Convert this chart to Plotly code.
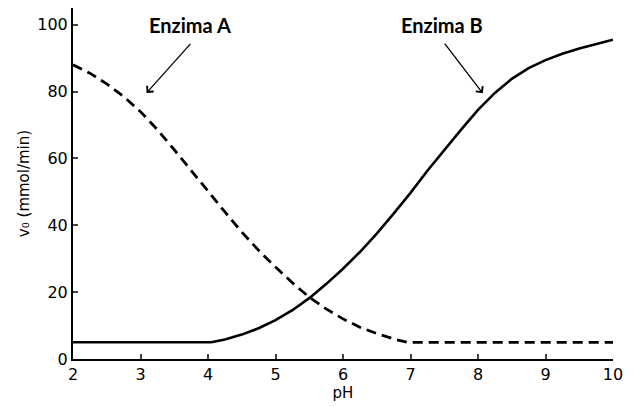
import plotly.graph_objects as go

ph_a = [2.0, 2.25, 2.5, 2.75, 3.0, 3.25, 3.5, 3.75, 4.0, 4.25, 4.5, 4.75, 5.0, 5.25,
        5.5, 5.75, 6.0, 6.25, 6.5, 6.75, 6.95, 8.0, 9.0, 10.0]
v_a = [88.0, 85.5, 82.3, 78.5, 74.0, 68.6, 62.6, 56.3, 50.0, 44.0, 38.0, 32.5, 27.5, 22.8,
       18.5, 15.0, 12.0, 9.5, 7.6, 6.0, 5.0, 5.0, 5.0, 5.0]

ph_b = [2.0, 3.0, 4.05, 4.25, 4.5, 4.75, 5.0, 5.25, 5.5, 5.75, 6.0, 6.25, 6.5, 6.75, 7.0,
        7.25, 7.5, 7.75, 8.0, 8.25, 8.5, 8.75, 9.0, 9.25, 9.5, 9.75, 10.0]
v_b = [5.0, 5.0, 5.0, 5.8, 7.3, 9.2, 11.6, 14.6, 18.2, 22.4, 27.0, 32.0, 37.5, 43.5, 49.7,
       56.3, 62.6, 68.6, 74.5, 79.6, 83.8, 87.0, 89.4, 91.3, 92.9, 94.3, 95.5]

x_ticks = [2, 3, 4, 5, 6, 7, 8, 9, 10]
y_ticks = [0, 20, 40, 60, 80, 100]

labels = ["Enzima A", "Enzima B"]
label_x = [3.74, 7.47]
label_y = [99.9, 99.9]
arrow_tail_x = [3.76, 7.49]
arrow_tail_y = [94.7, 94.8]
arrow_head_x = [3.09, 8.07]
arrow_head_y = [79.6, 79.5]

fig = go.Figure()
fig.add_trace(go.Scatter(x=ph_a, y=v_a, mode="lines", name=labels[0],
                         line=dict(color="black", width=2.8, dash="10px,6px")))
fig.add_trace(go.Scatter(x=ph_b, y=v_b, mode="lines", name=labels[1],
                         line=dict(color="black", width=2.6)))

font_ann = dict(family="Lato", size=20, color="black")
for i in range(2):
    fig.add_annotation(x=arrow_head_x[i], y=arrow_head_y[i], ax=arrow_tail_x[i], ay=arrow_tail_y[i],
                       axref="x", ayref="y", xref="x", yref="y", text="", showarrow=True,
                       arrowhead=4, arrowsize=1.3, arrowwidth=1.3, arrowcolor="black")
    fig.add_annotation(x=label_x[i], y=label_y[i], xref="x", yref="y",
                       text="<b>" + labels[i] + "</b>", showarrow=False, font=font_ann)

fig.update_layout(
    width=635, height=407,
    margin=dict(l=65, r=30, t=0, b=56),
    plot_bgcolor="white", paper_bgcolor="white",
    showlegend=False,
    font=dict(family="DejaVu Sans", color="black"),
)

fig.update_xaxes(range=[2, 10], tickvals=x_ticks, ticks="inside", ticklen=5, tickwidth=1.5,
                 showline=True, linecolor="black", linewidth=2, showgrid=False, zeroline=False,
                 tickfont=dict(size=16, family="DejaVu Sans"),
                 title=dict(text="pH", font=dict(size=15), standoff=4))
fig.update_yaxes(range=[0, 105], tickvals=y_ticks, ticks="inside", ticklen=5, tickwidth=1.5,
                 showline=True, linecolor="black", linewidth=2, showgrid=False, zeroline=False,
                 tickfont=dict(size=16, family="DejaVu Sans"),
                 title=dict(text="v₀ (mmol/min)", font=dict(size=15), standoff=4))

fig.write_html("out.html")
